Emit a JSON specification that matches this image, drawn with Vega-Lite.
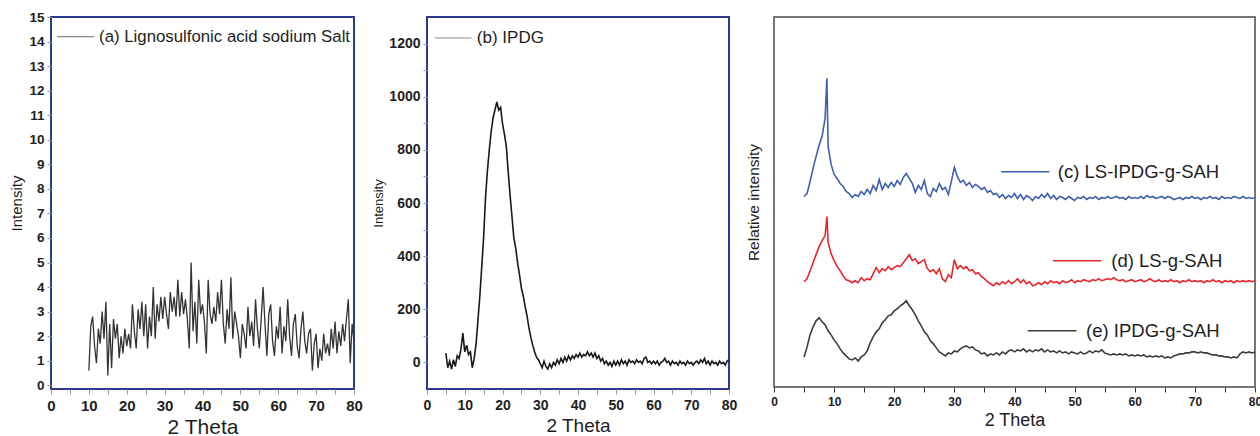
{
"$schema":"https://vega.github.io/schema/vega-lite/v6.json",
"background":"white",
"padding":{"left":8,"top":9,"right":0,"bottom":0},
"spacing":7,
"config":{"font":"Liberation Sans","axis":{"grid":false,"domain":false,"labelFlush":false,"labelColor":"#1e1e1e","titleColor":"#1e1e1e","titleFontWeight":"normal","labelFontWeight":"bold"}},
"datasets":{
"a":[{"x":10,"y":0.6},{"x":10.5,"y":2.4},{"x":11,"y":2.8},{"x":11.5,"y":1.6},{"x":12,"y":0.9},{"x":12.5,"y":2.3},{"x":13,"y":1.7},{"x":13.5,"y":3.0},{"x":14,"y":1.9},{"x":14.5,"y":3.4},{"x":15,"y":0.4},{"x":15.5,"y":2.5},{"x":16,"y":0.7},{"x":16.5,"y":2.7},{"x":17,"y":1.9},{"x":17.5,"y":2.5},{"x":18,"y":1.1},{"x":18.5,"y":2.0},{"x":19,"y":1.3},{"x":19.5,"y":2.3},{"x":20,"y":1.6},{"x":20.5,"y":2.1},{"x":21,"y":1.5},{"x":21.5,"y":3.3},{"x":22,"y":2.2},{"x":22.5,"y":1.5},{"x":23,"y":3.1},{"x":23.5,"y":2.3},{"x":24,"y":3.4},{"x":24.5,"y":2.0},{"x":25,"y":3.3},{"x":25.5,"y":1.5},{"x":26,"y":2.8},{"x":26.5,"y":2.0},{"x":27,"y":4.0},{"x":27.5,"y":1.9},{"x":28,"y":3.3},{"x":28.5,"y":2.6},{"x":29,"y":3.6},{"x":29.5,"y":2.7},{"x":30,"y":3.6},{"x":30.5,"y":2.9},{"x":31,"y":2.3},{"x":31.5,"y":3.8},{"x":32,"y":3.0},{"x":32.5,"y":3.6},{"x":33,"y":2.8},{"x":33.5,"y":4.3},{"x":34,"y":2.8},{"x":34.5,"y":3.8},{"x":35,"y":2.9},{"x":35.5,"y":3.5},{"x":36,"y":2.7},{"x":36.5,"y":1.5},{"x":37,"y":5.0},{"x":37.5,"y":2.2},{"x":38,"y":3.4},{"x":38.5,"y":1.7},{"x":39,"y":4.3},{"x":39.5,"y":2.9},{"x":40,"y":3.3},{"x":40.5,"y":2.6},{"x":41,"y":1.3},{"x":41.5,"y":4.3},{"x":42,"y":2.9},{"x":42.5,"y":2.5},{"x":43,"y":3.2},{"x":43.5,"y":2.6},{"x":44,"y":3.8},{"x":44.5,"y":2.9},{"x":45,"y":4.3},{"x":45.5,"y":2.5},{"x":46,"y":1.7},{"x":46.5,"y":3.1},{"x":47,"y":2.3},{"x":47.5,"y":4.4},{"x":48,"y":1.9},{"x":48.5,"y":3.0},{"x":49,"y":2.5},{"x":49.5,"y":2.0},{"x":50,"y":1.1},{"x":50.5,"y":2.5},{"x":51,"y":2.1},{"x":51.5,"y":1.5},{"x":52,"y":3.2},{"x":52.5,"y":2.0},{"x":53,"y":2.6},{"x":53.5,"y":1.6},{"x":54,"y":3.5},{"x":54.5,"y":2.3},{"x":55,"y":1.5},{"x":55.5,"y":2.7},{"x":56,"y":4.0},{"x":56.5,"y":2.5},{"x":57,"y":1.2},{"x":57.5,"y":2.9},{"x":58,"y":3.3},{"x":58.5,"y":1.8},{"x":59,"y":1.2},{"x":59.5,"y":2.4},{"x":60,"y":1.9},{"x":60.5,"y":3.2},{"x":61,"y":1.3},{"x":61.5,"y":2.4},{"x":62,"y":1.8},{"x":62.5,"y":3.5},{"x":63,"y":2.0},{"x":63.5,"y":1.2},{"x":64,"y":2.5},{"x":64.5,"y":2.9},{"x":65,"y":1.6},{"x":65.5,"y":1.1},{"x":66,"y":2.3},{"x":66.5,"y":3.0},{"x":67,"y":1.8},{"x":67.5,"y":1.3},{"x":68,"y":2.1},{"x":68.5,"y":2.3},{"x":69,"y":0.6},{"x":69.5,"y":1.7},{"x":70,"y":2.1},{"x":70.5,"y":0.7},{"x":71,"y":1.5},{"x":71.5,"y":1.0},{"x":72,"y":2.1},{"x":72.5,"y":1.3},{"x":73,"y":1.7},{"x":73.5,"y":1.2},{"x":74,"y":2.3},{"x":74.5,"y":1.5},{"x":75,"y":2.6},{"x":75.5,"y":1.3},{"x":76,"y":2.2},{"x":76.5,"y":1.6},{"x":77,"y":2.5},{"x":77.5,"y":1.8},{"x":78,"y":2.7},{"x":78.5,"y":3.5},{"x":79,"y":0.9},{"x":79.5,"y":2.5},{"x":80,"y":1.8}],
"b":[{"x":5,"y":35},{"x":5.5,"y":-20},{"x":6,"y":5},{"x":6.5,"y":-25},{"x":7,"y":10},{"x":7.5,"y":-15},{"x":8,"y":25},{"x":8.5,"y":15},{"x":9,"y":50},{"x":9.5,"y":110},{"x":10,"y":40},{"x":10.5,"y":65},{"x":11,"y":30},{"x":11.5,"y":40},{"x":12,"y":-20},{"x":12.5,"y":15},{"x":13,"y":70},{"x":13.5,"y":160},{"x":14,"y":250},{"x":14.5,"y":360},{"x":15,"y":470},{"x":15.5,"y":620},{"x":16,"y":720},{"x":16.5,"y":800},{"x":17,"y":870},{"x":17.5,"y":920},{"x":18,"y":950},{"x":18.5,"y":980},{"x":19,"y":950},{"x":19.5,"y":960},{"x":20,"y":900},{"x":20.5,"y":860},{"x":21,"y":815},{"x":21.5,"y":720},{"x":22,"y":630},{"x":22.5,"y":550},{"x":23,"y":470},{"x":23.5,"y":430},{"x":24,"y":375},{"x":24.5,"y":330},{"x":25,"y":280},{"x":25.5,"y":250},{"x":26,"y":210},{"x":26.5,"y":175},{"x":27,"y":130},{"x":27.5,"y":95},{"x":28,"y":65},{"x":28.5,"y":40},{"x":29,"y":20},{"x":29.5,"y":10},{"x":30,"y":-5},{"x":30.5,"y":-20},{"x":31,"y":5},{"x":31.5,"y":-15},{"x":32,"y":-25},{"x":32.5,"y":-5},{"x":33,"y":-20},{"x":33.5,"y":0},{"x":34,"y":-10},{"x":34.5,"y":10},{"x":35,"y":-5},{"x":35.5,"y":15},{"x":36,"y":0},{"x":36.5,"y":20},{"x":37,"y":5},{"x":37.5,"y":25},{"x":38,"y":10},{"x":38.5,"y":25},{"x":39,"y":15},{"x":39.5,"y":30},{"x":40,"y":20},{"x":40.5,"y":35},{"x":41,"y":20},{"x":41.5,"y":30},{"x":42,"y":25},{"x":42.5,"y":40},{"x":43,"y":25},{"x":43.5,"y":35},{"x":44,"y":20},{"x":44.5,"y":35},{"x":45,"y":15},{"x":45.5,"y":25},{"x":46,"y":5},{"x":46.5,"y":15},{"x":47,"y":-5},{"x":47.5,"y":5},{"x":48,"y":-10},{"x":48.5,"y":0},{"x":49,"y":-15},{"x":49.5,"y":5},{"x":50,"y":-10},{"x":50.5,"y":5},{"x":51,"y":-10},{"x":51.5,"y":10},{"x":52,"y":-5},{"x":52.5,"y":5},{"x":53,"y":-10},{"x":53.5,"y":10},{"x":54,"y":0},{"x":54.5,"y":5},{"x":55,"y":-5},{"x":55.5,"y":10},{"x":56,"y":0},{"x":56.5,"y":5},{"x":57,"y":-5},{"x":57.5,"y":15},{"x":58,"y":20},{"x":58.5,"y":0},{"x":59,"y":5},{"x":59.5,"y":-5},{"x":60,"y":5},{"x":60.5,"y":-5},{"x":61,"y":5},{"x":61.5,"y":-10},{"x":62,"y":0},{"x":62.5,"y":5},{"x":63,"y":15},{"x":63.5,"y":0},{"x":64,"y":5},{"x":64.5,"y":-10},{"x":65,"y":5},{"x":65.5,"y":-5},{"x":66,"y":0},{"x":66.5,"y":-10},{"x":67,"y":5},{"x":67.5,"y":-5},{"x":68,"y":0},{"x":68.5,"y":-10},{"x":69,"y":5},{"x":69.5,"y":-5},{"x":70,"y":0},{"x":70.5,"y":-10},{"x":71,"y":0},{"x":71.5,"y":5},{"x":72,"y":-5},{"x":72.5,"y":10},{"x":73,"y":0},{"x":73.5,"y":15},{"x":74,"y":-5},{"x":74.5,"y":5},{"x":75,"y":-10},{"x":75.5,"y":5},{"x":76,"y":-5},{"x":76.5,"y":0},{"x":77,"y":-10},{"x":77.5,"y":5},{"x":78,"y":-5},{"x":78.5,"y":0},{"x":79,"y":-10},{"x":79.5,"y":5},{"x":80,"y":10}],
"c":[{"s":"c","x":5,"y":190},{"s":"c","x":5.5,"y":193},{"s":"c","x":6,"y":205},{"s":"c","x":6.5,"y":218},{"s":"c","x":7,"y":230},{"s":"c","x":7.5,"y":241},{"s":"c","x":8,"y":250},{"s":"c","x":8.5,"y":268},{"s":"c","x":8.8,"y":308},{"s":"c","x":9,"y":240},{"s":"c","x":9.5,"y":222},{"s":"c","x":10,"y":212},{"s":"c","x":10.5,"y":208},{"s":"c","x":11,"y":203},{"s":"c","x":11.5,"y":200},{"s":"c","x":12,"y":195},{"s":"c","x":12.5,"y":193},{"s":"c","x":13,"y":189},{"s":"c","x":13.5,"y":192},{"s":"c","x":14,"y":190},{"s":"c","x":14.5,"y":195},{"s":"c","x":15,"y":192},{"s":"c","x":15.5,"y":197},{"s":"c","x":16,"y":193},{"s":"c","x":16.5,"y":201},{"s":"c","x":17,"y":196},{"s":"c","x":17.5,"y":207},{"s":"c","x":18,"y":197},{"s":"c","x":18.5,"y":203},{"s":"c","x":19,"y":199},{"s":"c","x":19.5,"y":204},{"s":"c","x":20,"y":200},{"s":"c","x":20.5,"y":206},{"s":"c","x":21,"y":202},{"s":"c","x":21.5,"y":209},{"s":"c","x":22,"y":213},{"s":"c","x":22.5,"y":208},{"s":"c","x":23,"y":203},{"s":"c","x":23.5,"y":194},{"s":"c","x":24,"y":201},{"s":"c","x":24.5,"y":197},{"s":"c","x":25,"y":206},{"s":"c","x":25.5,"y":193},{"s":"c","x":26,"y":190},{"s":"c","x":26.5,"y":198},{"s":"c","x":27,"y":195},{"s":"c","x":27.5,"y":203},{"s":"c","x":28,"y":197},{"s":"c","x":28.5,"y":199},{"s":"c","x":29,"y":192},{"s":"c","x":29.5,"y":205},{"s":"c","x":30,"y":219},{"s":"c","x":30.5,"y":210},{"s":"c","x":31,"y":204},{"s":"c","x":31.5,"y":206},{"s":"c","x":32,"y":201},{"s":"c","x":32.5,"y":204},{"s":"c","x":33,"y":199},{"s":"c","x":33.5,"y":202},{"s":"c","x":34,"y":200},{"s":"c","x":34.5,"y":197},{"s":"c","x":35,"y":199},{"s":"c","x":35.5,"y":194},{"s":"c","x":36,"y":196},{"s":"c","x":36.5,"y":192},{"s":"c","x":37,"y":193},{"s":"c","x":37.5,"y":189},{"s":"c","x":38,"y":192},{"s":"c","x":38.5,"y":188},{"s":"c","x":39,"y":191},{"s":"c","x":39.5,"y":189},{"s":"c","x":40,"y":193},{"s":"c","x":40.5,"y":188},{"s":"c","x":41,"y":192},{"s":"c","x":41.5,"y":187},{"s":"c","x":42,"y":191},{"s":"c","x":42.5,"y":189},{"s":"c","x":43,"y":186},{"s":"c","x":43.5,"y":190},{"s":"c","x":44,"y":188},{"s":"c","x":44.5,"y":192},{"s":"c","x":45,"y":189},{"s":"c","x":45.5,"y":193},{"s":"c","x":46,"y":188},{"s":"c","x":46.5,"y":191},{"s":"c","x":47,"y":187},{"s":"c","x":47.5,"y":190},{"s":"c","x":48,"y":189},{"s":"c","x":48.5,"y":187},{"s":"c","x":49,"y":190},{"s":"c","x":49.5,"y":188},{"s":"c","x":50,"y":186},{"s":"c","x":50.5,"y":189},{"s":"c","x":51,"y":188},{"s":"c","x":51.5,"y":190},{"s":"c","x":52,"y":187},{"s":"c","x":52.5,"y":189},{"s":"c","x":53,"y":188},{"s":"c","x":53.5,"y":190},{"s":"c","x":54,"y":187},{"s":"c","x":54.5,"y":189},{"s":"c","x":55,"y":188},{"s":"c","x":55.5,"y":190},{"s":"c","x":56,"y":188},{"s":"c","x":56.5,"y":189},{"s":"c","x":57,"y":190},{"s":"c","x":57.5,"y":188},{"s":"c","x":58,"y":189},{"s":"c","x":58.5,"y":187},{"s":"c","x":59,"y":190},{"s":"c","x":59.5,"y":188},{"s":"c","x":60,"y":189},{"s":"c","x":60.5,"y":188},{"s":"c","x":61,"y":190},{"s":"c","x":61.5,"y":188},{"s":"c","x":62,"y":191},{"s":"c","x":62.5,"y":189},{"s":"c","x":63,"y":190},{"s":"c","x":63.5,"y":188},{"s":"c","x":64,"y":189},{"s":"c","x":64.5,"y":190},{"s":"c","x":65,"y":188},{"s":"c","x":65.5,"y":190},{"s":"c","x":66,"y":189},{"s":"c","x":66.5,"y":187},{"s":"c","x":67,"y":188},{"s":"c","x":67.5,"y":189},{"s":"c","x":68,"y":187},{"s":"c","x":68.5,"y":189},{"s":"c","x":69,"y":188},{"s":"c","x":69.5,"y":190},{"s":"c","x":70,"y":188},{"s":"c","x":70.5,"y":189},{"s":"c","x":71,"y":187},{"s":"c","x":71.5,"y":189},{"s":"c","x":72,"y":188},{"s":"c","x":72.5,"y":190},{"s":"c","x":73,"y":188},{"s":"c","x":73.5,"y":189},{"s":"c","x":74,"y":187},{"s":"c","x":74.5,"y":190},{"s":"c","x":75,"y":188},{"s":"c","x":75.5,"y":189},{"s":"c","x":76,"y":188},{"s":"c","x":76.5,"y":190},{"s":"c","x":77,"y":189},{"s":"c","x":77.5,"y":188},{"s":"c","x":78,"y":190},{"s":"c","x":78.5,"y":188},{"s":"c","x":79,"y":189},{"s":"c","x":79.5,"y":188},{"s":"c","x":80,"y":189},
{"s":"d","x":5,"y":105},{"s":"d","x":5.5,"y":108},{"s":"d","x":6,"y":116},{"s":"d","x":6.5,"y":124},{"s":"d","x":7,"y":132},{"s":"d","x":7.5,"y":140},{"s":"d","x":8,"y":146},{"s":"d","x":8.5,"y":151},{"s":"d","x":8.8,"y":170},{"s":"d","x":9,"y":144},{"s":"d","x":9.5,"y":133},{"s":"d","x":10,"y":126},{"s":"d","x":10.5,"y":120},{"s":"d","x":11,"y":116},{"s":"d","x":11.5,"y":111},{"s":"d","x":12,"y":107},{"s":"d","x":12.5,"y":106},{"s":"d","x":13,"y":104},{"s":"d","x":13.5,"y":106},{"s":"d","x":14,"y":104},{"s":"d","x":14.5,"y":109},{"s":"d","x":15,"y":106},{"s":"d","x":15.5,"y":108},{"s":"d","x":16,"y":107},{"s":"d","x":16.5,"y":113},{"s":"d","x":17,"y":119},{"s":"d","x":17.5,"y":114},{"s":"d","x":18,"y":118},{"s":"d","x":18.5,"y":116},{"s":"d","x":19,"y":120},{"s":"d","x":19.5,"y":117},{"s":"d","x":20,"y":119},{"s":"d","x":20.5,"y":121},{"s":"d","x":21,"y":120},{"s":"d","x":21.5,"y":124},{"s":"d","x":22,"y":128},{"s":"d","x":22.5,"y":132},{"s":"d","x":23,"y":126},{"s":"d","x":23.5,"y":128},{"s":"d","x":24,"y":123},{"s":"d","x":24.5,"y":125},{"s":"d","x":25,"y":127},{"s":"d","x":25.5,"y":118},{"s":"d","x":26,"y":115},{"s":"d","x":26.5,"y":117},{"s":"d","x":27,"y":113},{"s":"d","x":27.5,"y":118},{"s":"d","x":28,"y":108},{"s":"d","x":28.5,"y":105},{"s":"d","x":29,"y":112},{"s":"d","x":29.5,"y":109},{"s":"d","x":30,"y":127},{"s":"d","x":30.5,"y":118},{"s":"d","x":31,"y":121},{"s":"d","x":31.5,"y":118},{"s":"d","x":32,"y":120},{"s":"d","x":32.5,"y":116},{"s":"d","x":33,"y":117},{"s":"d","x":33.5,"y":113},{"s":"d","x":34,"y":114},{"s":"d","x":34.5,"y":110},{"s":"d","x":35,"y":108},{"s":"d","x":35.5,"y":105},{"s":"d","x":36,"y":103},{"s":"d","x":36.5,"y":101},{"s":"d","x":37,"y":104},{"s":"d","x":37.5,"y":102},{"s":"d","x":38,"y":105},{"s":"d","x":38.5,"y":103},{"s":"d","x":39,"y":106},{"s":"d","x":39.5,"y":103},{"s":"d","x":40,"y":105},{"s":"d","x":40.5,"y":108},{"s":"d","x":41,"y":104},{"s":"d","x":41.5,"y":107},{"s":"d","x":42,"y":103},{"s":"d","x":42.5,"y":105},{"s":"d","x":43,"y":101},{"s":"d","x":43.5,"y":102},{"s":"d","x":44,"y":104},{"s":"d","x":44.5,"y":102},{"s":"d","x":45,"y":105},{"s":"d","x":45.5,"y":103},{"s":"d","x":46,"y":106},{"s":"d","x":46.5,"y":104},{"s":"d","x":47,"y":105},{"s":"d","x":47.5,"y":103},{"s":"d","x":48,"y":106},{"s":"d","x":48.5,"y":104},{"s":"d","x":49,"y":105},{"s":"d","x":49.5,"y":107},{"s":"d","x":50,"y":104},{"s":"d","x":50.5,"y":106},{"s":"d","x":51,"y":105},{"s":"d","x":51.5,"y":107},{"s":"d","x":52,"y":106},{"s":"d","x":52.5,"y":105},{"s":"d","x":53,"y":107},{"s":"d","x":53.5,"y":106},{"s":"d","x":54,"y":108},{"s":"d","x":54.5,"y":106},{"s":"d","x":55,"y":107},{"s":"d","x":55.5,"y":108},{"s":"d","x":56,"y":107},{"s":"d","x":56.5,"y":109},{"s":"d","x":57,"y":107},{"s":"d","x":57.5,"y":106},{"s":"d","x":58,"y":107},{"s":"d","x":58.5,"y":105},{"s":"d","x":59,"y":106},{"s":"d","x":59.5,"y":107},{"s":"d","x":60,"y":105},{"s":"d","x":60.5,"y":106},{"s":"d","x":61,"y":107},{"s":"d","x":61.5,"y":105},{"s":"d","x":62,"y":106},{"s":"d","x":62.5,"y":108},{"s":"d","x":63,"y":106},{"s":"d","x":63.5,"y":105},{"s":"d","x":64,"y":107},{"s":"d","x":64.5,"y":105},{"s":"d","x":65,"y":106},{"s":"d","x":65.5,"y":105},{"s":"d","x":66,"y":107},{"s":"d","x":66.5,"y":105},{"s":"d","x":67,"y":106},{"s":"d","x":67.5,"y":104},{"s":"d","x":68,"y":106},{"s":"d","x":68.5,"y":105},{"s":"d","x":69,"y":107},{"s":"d","x":69.5,"y":105},{"s":"d","x":70,"y":106},{"s":"d","x":70.5,"y":105},{"s":"d","x":71,"y":106},{"s":"d","x":71.5,"y":104},{"s":"d","x":72,"y":106},{"s":"d","x":72.5,"y":105},{"s":"d","x":73,"y":107},{"s":"d","x":73.5,"y":105},{"s":"d","x":74,"y":106},{"s":"d","x":74.5,"y":104},{"s":"d","x":75,"y":106},{"s":"d","x":75.5,"y":105},{"s":"d","x":76,"y":106},{"s":"d","x":76.5,"y":104},{"s":"d","x":77,"y":106},{"s":"d","x":77.5,"y":105},{"s":"d","x":78,"y":106},{"s":"d","x":78.5,"y":105},{"s":"d","x":79,"y":106},{"s":"d","x":79.5,"y":105},{"s":"d","x":80,"y":106},
{"s":"e","x":5,"y":30},{"s":"e","x":5.5,"y":40},{"s":"e","x":6,"y":52},{"s":"e","x":6.5,"y":60},{"s":"e","x":7,"y":66},{"s":"e","x":7.5,"y":69},{"s":"e","x":8,"y":65},{"s":"e","x":8.5,"y":62},{"s":"e","x":9,"y":56},{"s":"e","x":9.5,"y":52},{"s":"e","x":10,"y":47},{"s":"e","x":10.5,"y":43},{"s":"e","x":11,"y":38},{"s":"e","x":11.5,"y":34},{"s":"e","x":12,"y":31},{"s":"e","x":12.5,"y":28},{"s":"e","x":13,"y":27},{"s":"e","x":13.5,"y":29},{"s":"e","x":14,"y":26},{"s":"e","x":14.5,"y":30},{"s":"e","x":15,"y":32},{"s":"e","x":15.5,"y":36},{"s":"e","x":16,"y":44},{"s":"e","x":16.5,"y":50},{"s":"e","x":17,"y":55},{"s":"e","x":17.5,"y":58},{"s":"e","x":18,"y":64},{"s":"e","x":18.5,"y":67},{"s":"e","x":19,"y":71},{"s":"e","x":19.5,"y":72},{"s":"e","x":20,"y":76},{"s":"e","x":20.5,"y":78},{"s":"e","x":21,"y":81},{"s":"e","x":21.5,"y":83},{"s":"e","x":22,"y":86},{"s":"e","x":22.5,"y":81},{"s":"e","x":23,"y":77},{"s":"e","x":23.5,"y":72},{"s":"e","x":24,"y":66},{"s":"e","x":24.5,"y":61},{"s":"e","x":25,"y":55},{"s":"e","x":25.5,"y":52},{"s":"e","x":26,"y":46},{"s":"e","x":26.5,"y":43},{"s":"e","x":27,"y":39},{"s":"e","x":27.5,"y":35},{"s":"e","x":28,"y":33},{"s":"e","x":28.5,"y":31},{"s":"e","x":29,"y":34},{"s":"e","x":29.5,"y":33},{"s":"e","x":30,"y":36},{"s":"e","x":30.5,"y":35},{"s":"e","x":31,"y":38},{"s":"e","x":31.5,"y":40},{"s":"e","x":32,"y":41},{"s":"e","x":32.5,"y":39},{"s":"e","x":33,"y":40},{"s":"e","x":33.5,"y":37},{"s":"e","x":34,"y":36},{"s":"e","x":34.5,"y":33},{"s":"e","x":35,"y":34},{"s":"e","x":35.5,"y":31},{"s":"e","x":36,"y":33},{"s":"e","x":36.5,"y":32},{"s":"e","x":37,"y":34},{"s":"e","x":37.5,"y":32},{"s":"e","x":38,"y":35},{"s":"e","x":38.5,"y":33},{"s":"e","x":39,"y":36},{"s":"e","x":39.5,"y":37},{"s":"e","x":40,"y":35},{"s":"e","x":40.5,"y":37},{"s":"e","x":41,"y":36},{"s":"e","x":41.5,"y":38},{"s":"e","x":42,"y":35},{"s":"e","x":42.5,"y":37},{"s":"e","x":43,"y":35},{"s":"e","x":43.5,"y":37},{"s":"e","x":44,"y":36},{"s":"e","x":44.5,"y":38},{"s":"e","x":45,"y":35},{"s":"e","x":45.5,"y":37},{"s":"e","x":46,"y":35},{"s":"e","x":46.5,"y":36},{"s":"e","x":47,"y":34},{"s":"e","x":47.5,"y":36},{"s":"e","x":48,"y":34},{"s":"e","x":48.5,"y":35},{"s":"e","x":49,"y":33},{"s":"e","x":49.5,"y":35},{"s":"e","x":50,"y":34},{"s":"e","x":50.5,"y":33},{"s":"e","x":51,"y":35},{"s":"e","x":51.5,"y":33},{"s":"e","x":52,"y":34},{"s":"e","x":52.5,"y":36},{"s":"e","x":53,"y":34},{"s":"e","x":53.5,"y":36},{"s":"e","x":54,"y":35},{"s":"e","x":54.5,"y":37},{"s":"e","x":55,"y":34},{"s":"e","x":55.5,"y":33},{"s":"e","x":56,"y":32},{"s":"e","x":56.5,"y":33},{"s":"e","x":57,"y":32},{"s":"e","x":57.5,"y":33},{"s":"e","x":58,"y":32},{"s":"e","x":58.5,"y":33},{"s":"e","x":59,"y":31},{"s":"e","x":59.5,"y":32},{"s":"e","x":60,"y":31},{"s":"e","x":60.5,"y":32},{"s":"e","x":61,"y":31},{"s":"e","x":61.5,"y":32},{"s":"e","x":62,"y":30},{"s":"e","x":62.5,"y":31},{"s":"e","x":63,"y":30},{"s":"e","x":63.5,"y":31},{"s":"e","x":64,"y":30},{"s":"e","x":64.5,"y":31},{"s":"e","x":65,"y":29},{"s":"e","x":65.5,"y":30},{"s":"e","x":66,"y":29},{"s":"e","x":66.5,"y":31},{"s":"e","x":67,"y":32},{"s":"e","x":67.5,"y":33},{"s":"e","x":68,"y":33},{"s":"e","x":68.5,"y":34},{"s":"e","x":69,"y":34},{"s":"e","x":69.5,"y":35},{"s":"e","x":70,"y":35},{"s":"e","x":70.5,"y":34},{"s":"e","x":71,"y":35},{"s":"e","x":71.5,"y":34},{"s":"e","x":72,"y":34},{"s":"e","x":72.5,"y":33},{"s":"e","x":73,"y":32},{"s":"e","x":73.5,"y":32},{"s":"e","x":74,"y":31},{"s":"e","x":74.5,"y":31},{"s":"e","x":75,"y":30},{"s":"e","x":75.5,"y":30},{"s":"e","x":76,"y":29},{"s":"e","x":76.5,"y":30},{"s":"e","x":77,"y":29},{"s":"e","x":77.5,"y":33},{"s":"e","x":78,"y":35},{"s":"e","x":78.5,"y":34},{"s":"e","x":79,"y":35},{"s":"e","x":79.5,"y":34},{"s":"e","x":80,"y":35}],
"alr":[{"x":1.6,"x2":11.4,"y":14.2}],
"alt":[{"x":12.7,"y":14.2,"label":"(a) Lignosulfonic acid sodium Salt"}],
"blr":[{"x":2.1,"x2":11.8,"y":1221}],
"blt":[{"x":13.2,"y":1221,"label":"(b) IPDG"}],
"clr":[{"s":"c","x":37.8,"x2":45.8,"y":214.7},{"s":"d","x":46.4,"x2":54.4,"y":126},{"s":"e","x":42.2,"x2":50.3,"y":56}],
"clt":[{"s":"c","x":47.2,"y":214.7,"label":"(c) LS-IPDG-g-SAH"},{"s":"d","x":56.1,"y":126,"label":"(d) LS-g-SAH"},{"s":"e","x":51.9,"y":56,"label":"(e) IPDG-g-SAH"}]
},
"hconcat":[
{"width":303,"height":372,"view":{"stroke":"#2e3a8c","strokeWidth":2},
"encoding":{"x":{"field":"x","type":"quantitative","scale":{"domain":[0,80],"nice":false},"axis":{"title":"2 Theta","values":[0,5,10,15,20,25,30,35,40,45,50,55,60,65,70,75,80],"labelExpr":"datum.value % 10 === 0 ? datum.label : ''","tickColor":"#9a9a9a","tickSize":5,"labelFontSize":15,"labelPadding":4,"titleFontSize":21,"titlePadding":3}},
"y":{"field":"y","type":"quantitative","scale":{"domain":[-0.15,15],"nice":false},"axis":{"title":"Intensity","values":[0,1,2,3,4,5,6,7,8,9,10,11,12,13,14,15],"tickColor":"#9a9a9a","tickSize":4,"labelFontSize":13.5,"labelPadding":3,"titleFontSize":15,"titlePadding":4}}},
"layer":[
{"data":{"name":"a"},"mark":{"type":"line","color":"#333333","strokeWidth":1.3}},
{"data":{"name":"alr"},"mark":{"type":"rule","color":"#8a8a8a","strokeWidth":1.2},"encoding":{"x2":{"field":"x2"}}},
{"data":{"name":"alt"},"mark":{"type":"text","align":"left","baseline":"middle","fontSize":16.8,"color":"#1e1e1e"},"encoding":{"text":{"field":"label"}}}
]},
{"width":302,"height":372,"view":{"stroke":"#2e3a8c","strokeWidth":2},
"encoding":{"x":{"field":"x","type":"quantitative","scale":{"domain":[0,80],"nice":false},"axis":{"title":"2 Theta","values":[0,5,10,15,20,25,30,35,40,45,50,55,60,65,70,75,80],"labelExpr":"datum.value % 10 === 0 ? datum.label : ''","tickColor":"#9a9a9a","tickSize":5,"labelFontSize":14,"labelPadding":4,"titleFontSize":19,"titlePadding":4}},
"y":{"field":"y","type":"quantitative","scale":{"domain":[-100,1300],"nice":false},"axis":{"title":"Intensity","values":[0,100,200,300,400,500,600,700,800,900,1000,1100,1200],"labelExpr":"datum.value % 200 === 0 ? '' + datum.value : ''","tickColor":"#9a9a9a","tickSize":4,"labelFontSize":14,"labelPadding":3,"titleFontSize":13,"titlePadding":3}}},
"layer":[
{"data":{"name":"b"},"mark":{"type":"line","color":"#1a1a1a","strokeWidth":1.6}},
{"data":{"name":"blr"},"mark":{"type":"rule","color":"#8a8a8a","strokeWidth":1.2},"encoding":{"x2":{"field":"x2"}}},
{"data":{"name":"blt"},"mark":{"type":"text","align":"left","baseline":"middle","fontSize":17,"color":"#1e1e1e"},"encoding":{"text":{"field":"label"}}}
]},
{"width":481,"height":370,"view":{"stroke":"#4a4a4a","strokeWidth":1.5},
"encoding":{"x":{"field":"x","type":"quantitative","scale":{"domain":[0,80],"nice":false},"axis":{"title":"2 Theta","values":[0,5,10,15,20,25,30,35,40,45,50,55,60,65,70,75,80],"labelExpr":"datum.value % 10 === 0 ? datum.label : ''","tickColor":"#333333","tickSize":5,"labelFontSize":12,"labelPadding":4,"titleFontSize":18,"titlePadding":4}},
"y":{"field":"y","type":"quantitative","scale":{"domain":[0,369],"nice":false},"axis":{"title":"Relative intensity","labels":false,"ticks":false,"titleFontSize":15.5,"titlePadding":13}}},
"layer":[
{"data":{"name":"c"},"mark":{"type":"line","strokeWidth":1.6},"encoding":{"color":{"field":"s","type":"nominal","scale":{"domain":["c","d","e"],"range":["#3f5fae","#e8262b","#3c3c3c"]},"legend":null}}},
{"data":{"name":"clr"},"mark":{"type":"rule","strokeWidth":1.5},"encoding":{"x2":{"field":"x2"},"color":{"field":"s","type":"nominal","legend":null}}},
{"data":{"name":"clt"},"mark":{"type":"text","align":"left","baseline":"middle","fontSize":18.5,"color":"#1e1e1e"},"encoding":{"text":{"field":"label"}}}
]}
]
}
